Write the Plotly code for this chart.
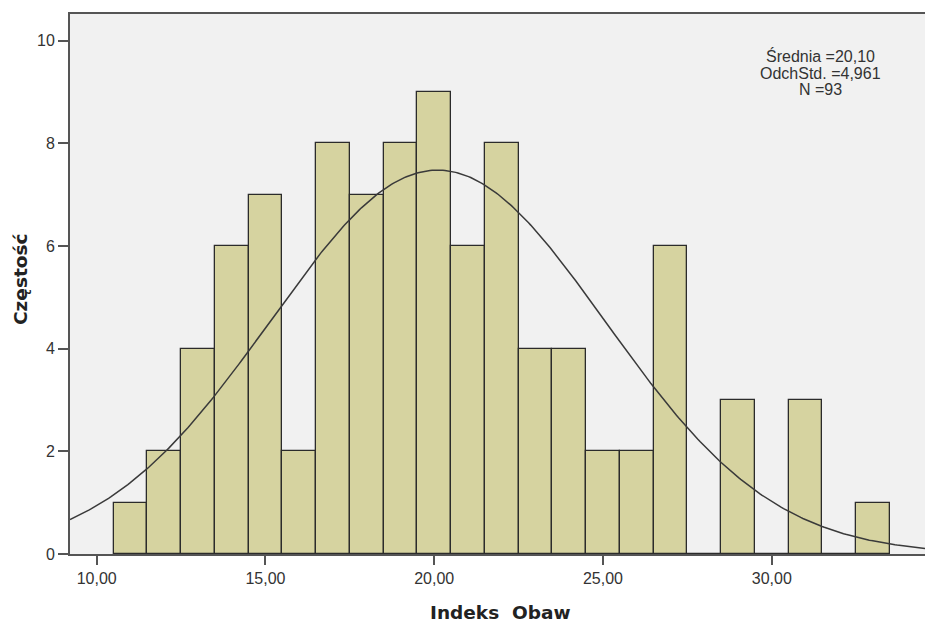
import numpy as np
import plotly.graph_objects as go

# Data
bin_centers = [11, 12, 13, 14, 15, 16, 17, 18, 19, 20, 21, 22, 23, 24, 25, 26, 27, 28, 29, 30, 31, 32, 33]
counts = [1, 2, 4, 6, 7, 2, 8, 7, 8, 9, 6, 8, 4, 4, 2, 2, 6, 0, 3, 0, 3, 0, 1]
mean_val = 20.10
std_val = 4.961
n_val = 93
bin_width = 1.0
x_tick_vals = [10, 15, 20, 25, 30]
x_tick_text = ["10,00", "15,00", "20,00", "25,00", "30,00"]
y_tick_vals = [0, 2, 4, 6, 8, 10]
y_tick_text = ["0", "2", "4", "6", "8", "10"]
stats_lines = ["Średnia =20,10", "OdchStd. =4,961", "N =93"]

x_range = [9.21, 34.54]
y_range = [0, 10.52]

# Fitted normal curve (from shown statistics)
xs = np.linspace(x_range[0], x_range[1], 400)
ys = n_val * bin_width / (std_val * np.sqrt(2 * np.pi)) * np.exp(-0.5 * ((xs - mean_val) / std_val) ** 2)

W, H = 925, 623
l, r, t, b = 70, 0, 14, 69
pw, ph = W - l - r, H - t - b

def px_to_paper(px, py):
    return (px - l) / pw, (H - b - py) / ph

fig = go.Figure()
fig.add_trace(go.Bar(
    x=bin_centers, y=counts, width=bin_width,
    marker=dict(color="#D6D3A0", line=dict(color="#2b2b2b", width=1.3)),
    hoverinfo="skip",
))
fig.add_trace(go.Scatter(
    x=xs, y=ys, mode="lines",
    line=dict(color="#3a3a3a", width=1.5),
    hoverinfo="skip",
))

font_main = "Liberation Sans, Arial, sans-serif"
font_title = "DejaVu Sans, Verdana, sans-serif"

annotations = []
for i, line in enumerate(stats_lines):
    ax, ay = px_to_paper(820, 56 + 17 * i)
    annotations.append(dict(text=line, x=ax, y=ay, xref="paper", yref="paper",
                            xanchor="center", yanchor="middle", showarrow=False,
                            font=dict(size=16, color="#333333", family=font_main)))
tx, ty = px_to_paper(500, 612)
annotations.append(dict(text="<b>Indeks  Obaw</b>", x=tx, y=ty, xref="paper", yref="paper",
                        xanchor="center", yanchor="middle", showarrow=False,
                        font=dict(size=18.5, color="#222222", family=font_title)))
yx, yy = px_to_paper(20, 280)
annotations.append(dict(text="<b>Częstość</b>", x=yx, y=yy, xref="paper", yref="paper",
                        xanchor="center", yanchor="middle", showarrow=False, textangle=-90,
                        font=dict(size=18.5, color="#222222", family=font_title)))

fig.update_layout(
    width=W, height=H,
    margin=dict(l=l, r=r, t=t, b=b),
    paper_bgcolor="white",
    plot_bgcolor="#F1F1F1",
    showlegend=False,
    bargap=0,
    font=dict(family=font_main, size=16, color="#333333"),
    xaxis=dict(
        range=x_range, tickvals=x_tick_vals, ticktext=x_tick_text,
        showgrid=False, zeroline=False,
        showline=True, linecolor="#555555", linewidth=2, mirror=True,
        ticks="outside", ticklen=9, tickwidth=2, tickcolor="#555555",
        tickfont=dict(size=16, color="#333333"),
    ),
    yaxis=dict(
        range=y_range, tickvals=y_tick_vals, ticktext=y_tick_text,
        showgrid=False, zeroline=False,
        showline=True, linecolor="#555555", linewidth=2,
        ticks="outside", ticklen=10, tickwidth=2, tickcolor="#555555",
        tickfont=dict(size=16, color="#333333"),
    ),
    annotations=annotations,
)

fig.write_html("out.html",
               config={"displayModeBar": False},
               post_script="document.body.style.margin='0';document.body.style.overflow='hidden';")
